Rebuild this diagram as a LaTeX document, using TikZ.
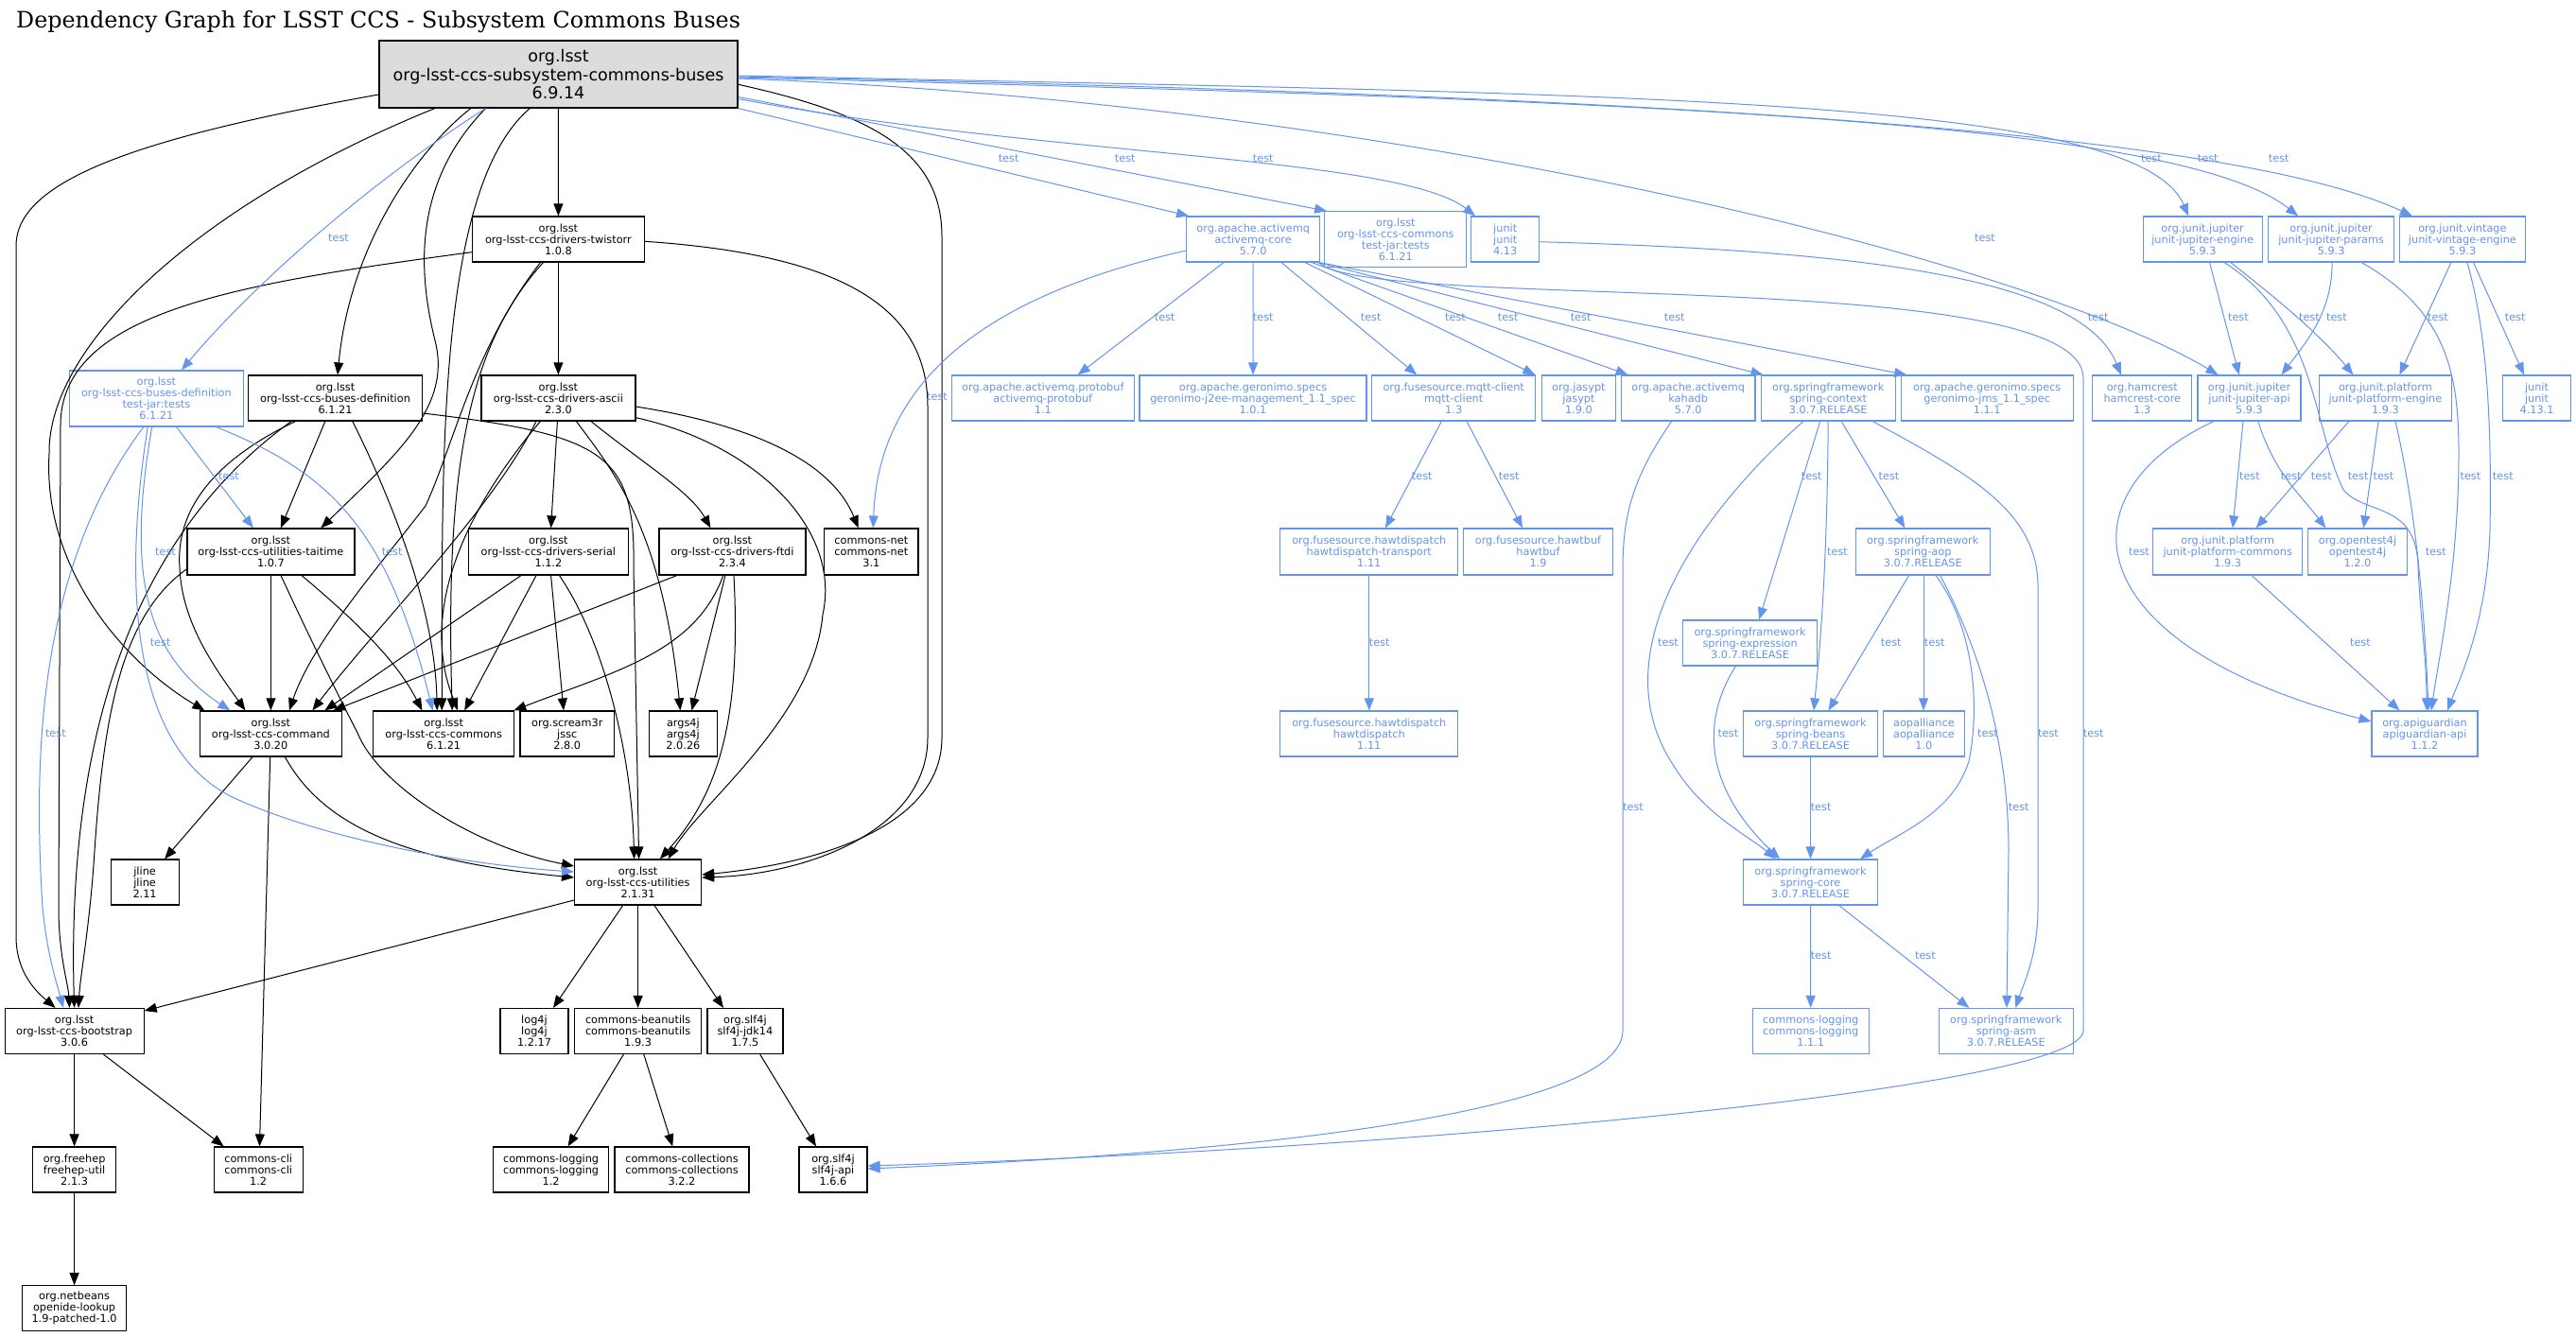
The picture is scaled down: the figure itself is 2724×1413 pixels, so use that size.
\documentclass[tikz,border=0pt]{standalone}
\usepackage{fontspec}
\usetikzlibrary{arrows.meta}
\newfontfamily\djv{DejaVu Sans}
\newfontfamily\djvs{DejaVu Serif}
\definecolor{cblue}{HTML}{6495ED}
\definecolor{rootgray}{HTML}{DCDCDC}
\tikzset{
  nb/.style={font=\djv\fontsize{11.3}{12}\selectfont, align=center, inner sep=0pt, line width=1.2pt},
  bk/.style={nb, draw=black, text=black},
  bl/.style={nb, draw=cblue, text=cblue},
  be/.style={draw=black, line width=1pt, -{Triangle[length=13pt,width=10pt]}},
  ue/.style={draw=cblue, line width=1pt, -{Triangle[length=13pt,width=10pt]}},
  lb/.style={font=\djv\fontsize{11.3}{12}\selectfont, text=cblue, inner sep=0pt},
}
\begin{document}
\begin{tikzpicture}[x=1pt,y=-1pt]
\fill[white] (0,0) rectangle (2724,1413);
\useasboundingbox (0,0) rectangle (2724,1413);

\node[anchor=base west, inner sep=0pt, font=\djvs\fontsize{23.8}{27}\selectfont] (title) at (17,30) {Dependency Graph for LSST CCS - Subsystem Commons Buses};

% ---------- black nodes ----------
\node[bk, fill=rootgray, minimum width=379, minimum height=71, font=\djv\fontsize{17.5}{19.5}\selectfont] (root) at (590.5,78.5) {org.lsst\\org-lsst-ccs-subsystem-commons-buses\\6.9.14};
\node[bk, minimum width=182, minimum height=48] (tw) at (590.4,253) {org.lsst\\org-lsst-ccs-drivers-twistorr\\1.0.8};
\node[bk, minimum width=184, minimum height=48] (bd) at (354.5,421) {org.lsst\\org-lsst-ccs-buses-definition\\6.1.21};
\node[bk, minimum width=163, minimum height=48] (asc) at (590.4,421) {org.lsst\\org-lsst-ccs-drivers-ascii\\2.3.0};
\node[bk, minimum width=177, minimum height=49] (tt) at (286.4,583.5) {org.lsst\\org-lsst-ccs-utilities-taitime\\1.0.7};
\node[bk, minimum width=169, minimum height=49] (ser) at (579.9,583.5) {org.lsst\\org-lsst-ccs-drivers-serial\\1.1.2};
\node[bk, minimum width=155, minimum height=49] (ftdi) at (774.4,583.5) {org.lsst\\org-lsst-ccs-drivers-ftdi\\2.3.4};
\node[bk, minimum width=99.5, minimum height=49] (cnet) at (921.3,583.5) {commons-net\\commons-net\\3.1};
\node[bk, minimum width=150, minimum height=48] (cmd) at (286.4,776) {org.lsst\\org-lsst-ccs-command\\3.0.20};
\node[bk, minimum width=149, minimum height=48] (com) at (469.2,776) {org.lsst\\org-lsst-ccs-commons\\6.1.21};
\node[bk, minimum width=99.6, minimum height=48] (jssc) at (599.8,776) {org.scream3r\\jssc\\2.8.0};
\node[bk, minimum width=72, minimum height=48] (args) at (722.4,776) {args4j\\args4j\\2.0.26};
\node[bk, minimum width=72, minimum height=48] (jline) at (153.1,933) {jline\\jline\\2.11};
\node[bk, minimum width=134, minimum height=48] (util) at (674.6,933) {org.lsst\\org-lsst-ccs-utilities\\2.1.31};
\node[bk, minimum width=147, minimum height=48] (boot) at (78.6,1090.5) {org.lsst\\org-lsst-ccs-bootstrap\\3.0.6};
\node[bk, minimum width=72, minimum height=48] (log4j) at (565,1090.5) {log4j\\log4j\\1.2.17};
\node[bk, minimum width=134, minimum height=48] (bu) at (674.6,1090.5) {commons-beanutils\\commons-beanutils\\1.9.3};
\node[bk, minimum width=80, minimum height=48] (jdk) at (787.9,1090.5) {org.slf4j\\slf4j-jdk14\\1.7.5};
\node[bk, minimum width=88, minimum height=48] (fh) at (78.6,1237) {org.freehep\\freehep-util\\2.1.3};
\node[bk, minimum width=94, minimum height=48] (cli) at (273.2,1237) {commons-cli\\commons-cli\\1.2};
\node[bk, minimum width=122, minimum height=48] (cl12) at (582.6,1237) {commons-logging\\commons-logging\\1.2};
\node[bk, minimum width=142, minimum height=48] (cc) at (721,1237) {commons-collections\\commons-collections\\3.2.2};
\node[bk, minimum width=72, minimum height=48] (sapi) at (881,1237) {org.slf4j\\slf4j-api\\1.6.6};
\node[bk, minimum width=110, minimum height=48] (nb) at (78.6,1383.8) {org.netbeans\\openide-lookup\\1.9-patched-1.0};

% ---------- blue nodes ----------
\node[bl, minimum width=184, minimum height=59] (tj) at (165.4,421.5) {org.lsst\\org-lsst-ccs-buses-definition\\test-jar:tests\\6.1.21};
\node[bl, minimum width=141, minimum height=48] (amq) at (1325.2,253) {org.apache.activemq\\activemq-core\\5.7.0};
\node[bl, minimum width=150, minimum height=59] (ctj) at (1475.8,253.3) {org.lsst\\org-lsst-ccs-commons\\test-jar:tests\\6.1.21};
\node[bl, minimum width=72, minimum height=48] (ju) at (1591.7,253) {junit\\junit\\4.13};
\node[bl, minimum width=126, minimum height=48] (jen) at (2329.1,253) {org.junit.jupiter\\junit-jupiter-engine\\5.9.3};
\node[bl, minimum width=133, minimum height=48] (jpar) at (2465.1,253) {org.junit.jupiter\\junit-jupiter-params\\5.9.3};
\node[bl, minimum width=133, minimum height=48] (vin) at (2603.9,253) {org.junit.vintage\\junit-vintage-engine\\5.9.3};
\node[bl, minimum width=193, minimum height=48] (pb) at (1102.8,421) {org.apache.activemq.protobuf\\activemq-protobuf\\1.1};
\node[bl, minimum width=240, minimum height=48] (j2ee) at (1325,421) {org.apache.geronimo.specs\\geronimo-j2ee-management\_1.1\_spec\\1.0.1};
\node[bl, minimum width=173, minimum height=48] (mqtt) at (1537.2,421) {org.fusesource.mqtt-client\\mqtt-client\\1.3};
\node[bl, minimum width=78, minimum height=48] (jas) at (1669.4,421) {org.jasypt\\jasypt\\1.9.0};
\node[bl, minimum width=141.5, minimum height=48] (kdb) at (1785.2,421) {org.apache.activemq\\kahadb\\5.7.0};
\node[bl, minimum width=142, minimum height=48] (sctx) at (1933.2,421) {org.springframework\\spring-context\\3.0.7.RELEASE};
\node[bl, minimum width=182, minimum height=48] (jms) at (2101.2,421) {org.apache.geronimo.specs\\geronimo-jms\_1.1\_spec\\1.1.1};
\node[bl, minimum width=105, minimum height=48] (ham) at (2265.3,421) {org.hamcrest\\hamcrest-core\\1.3};
\node[bl, minimum width=109, minimum height=48] (japi) at (2378.5,421) {org.junit.jupiter\\junit-jupiter-api\\5.9.3};
\node[bl, minimum width=140, minimum height=48] (pen) at (2522.4,421) {org.junit.platform\\junit-platform-engine\\1.9.3};
\node[bl, minimum width=72, minimum height=48] (ju4) at (2682.5,421) {junit\\junit\\4.13.1};
\node[bl, minimum width=188, minimum height=49] (hdt) at (1447.8,583.5) {org.fusesource.hawtdispatch\\hawtdispatch-transport\\1.11};
\node[bl, minimum width=158, minimum height=49] (hbuf) at (1626.5,583.5) {org.fusesource.hawtbuf\\hawtbuf\\1.9};
\node[bl, minimum width=142, minimum height=49] (aop) at (2033.3,583.5) {org.springframework\\spring-aop\\3.0.7.RELEASE};
\node[bl, minimum width=158, minimum height=49] (pcom) at (2355.7,583.5) {org.junit.platform\\junit-platform-commons\\1.9.3};
\node[bl, minimum width=105, minimum height=49] (ot) at (2493,583.5) {org.opentest4j\\opentest4j\\1.2.0};
\node[bl, minimum width=142, minimum height=48] (sexp) at (1850.6,680) {org.springframework\\spring-expression\\3.0.7.RELEASE};
\node[bl, minimum width=188, minimum height=48] (hd) at (1447.8,776) {org.fusesource.hawtdispatch\\hawtdispatch\\1.11};
\node[bl, minimum width=142, minimum height=48] (sbeans) at (1914.5,776) {org.springframework\\spring-beans\\3.0.7.RELEASE};
\node[bl, minimum width=86, minimum height=48] (aopa) at (2034.4,776) {aopalliance\\aopalliance\\1.0};
\node[bl, minimum width=112, minimum height=48] (apig) at (2564,776) {org.apiguardian\\apiguardian-api\\1.1.2};
\node[bl, minimum width=142, minimum height=48] (score) at (1914.5,933) {org.springframework\\spring-core\\3.0.7.RELEASE};
\node[bl, minimum width=123, minimum height=48] (cl111) at (1914.7,1090.5) {commons-logging\\commons-logging\\1.1.1};
\node[bl, minimum width=142, minimum height=48] (asm) at (2121.3,1090.5) {org.springframework\\spring-asm\\3.0.7.RELEASE};

% ---------- black edges ----------
\draw[be] (root) -- (tw);
\draw[be] ([xshift=-92.7]root.south) .. controls (440,160) and (370,260) .. ([xshift=2.5]bd.north);
\draw[be] ([xshift=-77]root.south) .. controls (440,190) and (440,280) .. (460,360) .. controls (478,430) and (420,480) .. ([xshift=53]tt.north);
\draw[be] ([xshift=-30.2]root.south) .. controls (460,200) and (468,500) .. ([xshift=-2]com.north);
\draw[be] ([xshift=-130.7]root.south) .. controls (200,220) and (50,370) .. (52,480) .. controls (45,600) and (130,700) .. ([xshift=-70]cmd.north);
\draw[be] ([yshift=-21.5]root.west) .. controls (150,145) and (17,190) .. (17,260) -- (17,990) .. controls (17,1030) and (40,1050) .. ([xshift=-20]boot.north);
\draw[be] ([yshift=-10.8]root.east) .. controls (920,120) and (996,160) .. (996,250) -- (996,780) .. controls (996,880) and (850,915) .. ([yshift=8]util.east);
\draw[be] ([yshift=-2.3]tw.east) .. controls (900,270) and (981,330) .. (981,430) -- (981,780) .. controls (981,880) and (850,925) .. ([yshift=5]util.east);
\draw[be] (tw) -- (asc);
\draw[be] ([yshift=-13.7]tw.west) .. controls (250,300) and (64,330) .. (64,450) -- (62,960) .. controls (62,1010) and (72,1040) .. ([xshift=-5]boot.north);
\draw[be] ([xshift=-19]tw.south) .. controls (500,370) and (480,470) .. (450,535) .. controls (400,600) and (330,680) .. ([xshift=19.5]cmd.north);
\draw[be] ([xshift=-16]tw.south) .. controls (500,360) and (470,480) .. ([xshift=9]com.north);
\draw[be] ([xshift=-10.7]bd.south) -- ([xshift=10.5]tt.north);
\draw[be] ([xshift=-42]bd.south) .. controls (240,480) and (185,530) .. (190,600) .. controls (192,660) and (230,710) .. ([xshift=-27]cmd.north);
\draw[be] ([xshift=-46.5]bd.south) .. controls (150,560) and (70,760) .. (boot.north);
\draw[be] ([xshift=18.3]bd.south) .. controls (420,540) and (460,650) .. ([xshift=-7]com.north);
\draw[be] ([yshift=-16]bd.east) .. controls (640,460) and (672,480) .. (670,600) -- ([xshift=1]util.north);
\draw[be] ([xshift=34.6]asc.south) .. controls (680,490) and (730,520) .. ([xshift=-23]ftdi.north);
\draw[be] ([xshift=-1]asc.south) -- ([xshift=2.7]ser.north);
\draw[be] ([yshift=-9]asc.east) .. controls (800,450) and (880,490) .. ([xshift=-13.6]cnet.north);
\draw[be] ([yshift=-20.7]asc.east) .. controls (800,470) and (890,560) .. (870,650) .. controls (860,760) and (740,850) .. ([xshift=32]util.north);
\draw[be] ([xshift=19]asc.south) .. controls (650,500) and (700,560) .. ([xshift=-3]args.north);
\draw[be] ([xshift=-23.4]asc.south) .. controls (520,540) and (400,660) .. ([xshift=44]cmd.north);
\draw[be] ([xshift=-19]asc.south) .. controls (500,530) and (440,640) .. ([xshift=15]com.north);
\draw[be] ([xshift=-58.7]ftdi.south) -- ([xshift=66]cmd.north);
\draw[be] ([xshift=-9.6]ftdi.south) .. controls (735,690) and (650,710) .. ([xshift=-1]com.north east);
\draw[be] ([xshift=-7.4]ftdi.south) -- ([xshift=9]args.north);
\draw[be] ([xshift=1.6]ftdi.south) .. controls (784,760) and (760,840) .. ([xshift=23.3]util.north);
\draw[be] ([xshift=-28.9]ser.south) -- ([xshift=57]cmd.north);
\draw[be] ([xshift=-12.9]ser.south) -- ([xshift=22]com.north);
\draw[be] ([xshift=2.7]ser.south) -- ([xshift=-3.8]jssc.north);
\draw[be] ([xshift=11.6]ser.south) .. controls (640,680) and (668,800) .. ([xshift=-4]util.north);
\draw[be] (tt) -- (cmd);
\draw[be] ([xshift=32.6]tt.south) .. controls (380,660) and (420,700) .. ([xshift=-22.8]com.north);
\draw[be] ([xshift=10.6]tt.south) .. controls (330,680) and (360,740) .. (378,775) .. controls (400,830) and (500,895) .. ([yshift=17]util.west);
\draw[be] ([yshift=-18.5]tt.west) .. controls (130,650) and (110,750) .. (100,900) .. controls (95,980) and (85,1030) .. ([xshift=4.4]boot.north);
\draw[be] ([xshift=-19.4]cmd.south) -- ([xshift=21]jline.north);
\draw[be] ([xshift=-0.7]cmd.south) -- ([xshift=1.3]cli.north);
\draw[be] ([xshift=15]cmd.south) .. controls (340,870) and (420,910) .. ([yshift=5]util.west);
\draw[be] ([yshift=-19]util.west) -- ([yshift=21.5]boot.east);
\draw[be] ([xshift=-16]util.south) -- ([xshift=20]log4j.north);
\draw[be] (util) -- (bu);
\draw[be] ([xshift=17.4]util.south) -- ([xshift=-23]jdk.north);
\draw[be] (boot) -- (fh);
\draw[be] ([xshift=30.8]boot.south) -- ([xshift=-36.6]cli.north);
\draw[be] (fh) -- (nb);
\draw[be] ([xshift=-15.2]bu.south) -- ([xshift=18]cl12.north);
\draw[be] ([xshift=6.2]bu.south) -- ([xshift=-9.75]cc.north);
\draw[be] ([xshift=15.8]jdk.south) -- ([xshift=-18]sapi.north);

% ---------- blue edges ----------
\draw[ue] ([xshift=-77]root.south) .. controls (380,200) and (260,310) .. ([xshift=26.6]tj.north);
\draw[ue] (root.south east) -- ([xshift=3]amq.north west);
\draw[ue] ([yshift=-24]root.east) -- ([xshift=3]ctj.north west);
\draw[ue] ([yshift=-26]root.east) .. controls (1100,165) and (1480,165) .. ([xshift=-31.7]ju.north);
\draw[ue] ([yshift=-4.5]root.east) .. controls (1500,110) and (2150,280) .. ([xshift=-33]japi.north);
\draw[ue] ([yshift=-1.5]root.east) .. controls (1700,100) and (2260,100) .. ([xshift=-15]jen.north);
\draw[ue] ([yshift=-3.5]root.east) .. controls (1700,105) and (2300,125) .. ([xshift=-35]jpar.north);
\draw[ue] ([yshift=-2.5]root.east) .. controls (1700,100) and (2350,135) .. ([xshift=-53]vin.north);

\draw[ue] ([xshift=21.2]tj.south) -- ([xshift=-18.5]tt.north);
\draw[ue] ([xshift=63.2]tj.south) .. controls (350,500) and (410,560) .. ([xshift=-11.6]com.north);
\draw[ue] ([xshift=-4.7]tj.south) .. controls (135,600) and (150,690) .. ([xshift=-43]cmd.north);
\draw[ue] ([xshift=-9.2]tj.south) .. controls (125,650) and (150,800) .. (250,845) .. controls (350,890) and (500,915) .. ([yshift=11]util.west);
\draw[ue] ([xshift=-13.6]tj.south) .. controls (40,600) and (35,800) .. (45,960) .. controls (50,1010) and (60,1040) .. ([xshift=-11.6]boot.north);

\draw[ue] ([yshift=-12]amq.west) .. controls (1100,300) and (930,370) .. ([xshift=2]cnet.north);
\draw[ue] ([xshift=-31.2]amq.south) -- ([xshift=37]pb.north);
\draw[ue] (amq) -- (j2ee);
\draw[ue] ([xshift=29.8]amq.south) -- ([xshift=-39]mqtt.north);
\draw[ue] ([xshift=54.8]amq.south) -- ([xshift=-46]jas.north);
\draw[ue] ([xshift=61.8]amq.south) -- ([xshift=-63.6]kdb.north);
\draw[ue] ([xshift=-3]amq.south east) -- ([xshift=-68.7]sctx.north);
\draw[ue] ([xshift=-1]amq.south east) -- ([xshift=-85]jms.north);
\draw[ue] ([xshift=-2]amq.south east) .. controls (1450,330) and (2203,280) .. (2203,400) -- (2203,1090) .. controls (2203,1150) and (1500,1215) .. ([yshift=4]sapi.east);

\draw[ue] ([yshift=-2.7]ju.east) .. controls (1950,265) and (2200,290) .. ([xshift=-22.5]ham.north);

\draw[ue] ([xshift=7.4]jen.south) -- ([xshift=-10.75]japi.north);
\draw[ue] ([xshift=29.7]jen.south) .. controls (2400,310) and (2450,350) .. ([xshift=-34]pen.north);
\draw[ue] ([xshift=23]jen.south) .. controls (2450,340) and (2445,450) .. (2478,518) .. controls (2500,545) and (2556,530) .. (2557,600) .. controls (2560,660) and (2566,700) .. ([xshift=2]apig.north);
\draw[ue] ([xshift=1]jpar.south) .. controls (2466,330) and (2440,360) .. ([xshift=34]japi.north);
\draw[ue] ([xshift=32]jpar.south) .. controls (2590,330) and (2600,400) .. (2600,480) .. controls (2600,600) and (2578,700) .. ([xshift=7]apig.north);
\draw[ue] ([xshift=-12]vin.south) -- ([xshift=15]pen.north);
\draw[ue] ([xshift=11.6]vin.south) -- ([xshift=-13.5]ju4.north);
\draw[ue] ([xshift=5]vin.south) .. controls (2630,350) and (2635,450) .. (2633,560) .. controls (2630,660) and (2600,720) .. ([xshift=24]apig.north);
\draw[ue] ([xshift=-6.5]japi.south) -- ([xshift=5.3]pcom.north);
\draw[ue] ([xshift=9.3]japi.south) .. controls (2405,500) and (2430,520) .. ([xshift=-33.7]ot.north);
\draw[ue] ([xshift=-37.5]japi.south) .. controls (2180,520) and (2190,680) .. ([yshift=13]apig.west);
\draw[ue] ([xshift=-38.6]pen.south) -- ([xshift=30]pcom.north);
\draw[ue] ([xshift=-7.4]pen.south) -- ([xshift=6.4]ot.north);
\draw[ue] ([xshift=10.6]pen.south) .. controls (2555,540) and (2564,650) .. ([xshift=4]apig.north);
\draw[ue] ([xshift=25.3]pcom.south) -- ([xshift=-26.6]apig.north);

\draw[ue] ([xshift=-12.9]mqtt.south) -- ([xshift=17.2]hdt.north);
\draw[ue] ([xshift=13.8]mqtt.south) -- ([xshift=-16.5]hbuf.north);
\draw[ue] (hdt) -- (hd);
\draw[ue] ([xshift=-17.6]kdb.south) .. controls (1730,500) and (1716,540) .. (1716,600) -- (1716,1090) .. controls (1716,1180) and (1300,1220) .. ([yshift=1]sapi.east);

\draw[ue] ([xshift=-8.5]sctx.south) -- ([xshift=9.5]sexp.north);
\draw[ue] (sctx.south) .. controls (1932,600) and (1925,680) .. ([xshift=3.5]sbeans.north);
\draw[ue] ([xshift=-26.3]sctx.south) .. controls (1800,540) and (1690,690) .. (1770,810) .. controls (1800,860) and (1850,885) .. ([xshift=-36.6]score.north);
\draw[ue] ([xshift=14]sctx.south) -- ([xshift=-19]aop.north);
\draw[ue] ([xshift=47]sctx.south) .. controls (2080,500) and (2155,540) .. (2155,620) -- (2155,960) .. controls (2155,1010) and (2140,1040) .. ([xshift=10]asm.north);
\draw[ue] ([xshift=-15.2]sexp.south) .. controls (1800,760) and (1800,830) .. ([xshift=-32.5]score.north);
\draw[ue] (sbeans) -- (score);
\draw[ue] ([xshift=-14.8]aop.south) -- ([xshift=19]sbeans.north);
\draw[ue] ([xshift=0.7]aop.south) -- ([xshift=-0.4]aopa.north);
\draw[ue] ([xshift=13.7]aop.south) .. controls (2085,660) and (2095,740) .. (2082,805) .. controls (2065,860) and (2010,880) .. ([xshift=52.5]score.north);
\draw[ue] ([xshift=18.4]aop.south) .. controls (2100,700) and (2124,800) .. (2124,900) -- ([xshift=0.7]asm.north);
\draw[ue] (score) -- (cl111);
\draw[ue] ([xshift=30.3]score.south) -- ([xshift=-39]asm.north);

% ---------- edge labels ----------
\node[lb] (t1) at (358,252) {test};
\node[lb] (t2) at (1066.6,168) {test};
\node[lb] (t3) at (1189.8,168) {test};
\node[lb] (t4) at (1335.8,168) {test};
\node[lb] (t5) at (2099,252) {test};
\node[lb] (t6) at (2274.9,168) {test};
\node[lb] (t7) at (2334.7,168) {test};
\node[lb] (t8) at (2409.7,168) {test};
\node[lb] (t9) at (242,504) {test};
\node[lb] (t10) at (175,583.3) {test};
\node[lb] (t11) at (414.7,583.3) {test};
\node[lb] (t12) at (169.6,679.3) {test};
\node[lb] (t13) at (58.9,775.3) {test};
\node[lb] (t14) at (991,420) {test};
\node[lb] (t15) at (1231.8,336) {test};
\node[lb] (t16) at (1335.8,336) {test};
\node[lb] (t17) at (1449.7,336) {test};
\node[lb] (t18) at (1539,336) {test};
\node[lb] (t19) at (1594.8,336) {test};
\node[lb] (t20) at (1671.6,336) {test};
\node[lb] (t21) at (1770.7,336) {test};
\node[lb] (t22) at (2213.7,775.3) {test};
\node[lb] (t23) at (2218.6,336) {test};
\node[lb] (t24) at (2366.9,336) {test};
\node[lb] (t25) at (2441.9,336) {test};
\node[lb] (t26) at (2470.9,336) {test};
\node[lb] (t27) at (2578,336) {test};
\node[lb] (t28) at (2659.7,336) {test};
\node[lb] (t29) at (2378.9,504) {test};
\node[lb] (t30) at (2422.7,504) {test};
\node[lb] (t31) at (2454.8,504) {test};
\node[lb] (t32) at (2493.6,504) {test};
\node[lb] (t33) at (2520.4,504) {test};
\node[lb] (t34) at (2612.4,504) {test};
\node[lb] (t35) at (2646.8,504) {test};
\node[lb] (t36) at (2262,583.3) {test};
\node[lb] (t37) at (2575.8,583.3) {test};
\node[lb] (t38) at (2495.9,679.3) {test};
\node[lb] (t39) at (1503.75,504) {test};
\node[lb] (t40) at (1595.7,504) {test};
\node[lb] (t41) at (1458.7,679.3) {test};
\node[lb] (t42) at (1915.8,504) {test};
\node[lb] (t43) at (1997.5,504) {test};
\node[lb] (t44) at (1943,583.3) {test};
\node[lb] (t45) at (1764,679.3) {test};
\node[lb] (t46) at (1999.7,679.3) {test};
\node[lb] (t47) at (2045.7,679.3) {test};
\node[lb] (t48) at (1827.4,775.3) {test};
\node[lb] (t49) at (2102,775.3) {test};
\node[lb] (t50) at (2166,775.3) {test};
\node[lb] (t51) at (1925.6,853.3) {test};
\node[lb] (t52) at (1727,853.3) {test};
\node[lb] (t53) at (2134.7,853.3) {test};
\node[lb] (t54) at (1925.6,1011) {test};
\node[lb] (t55) at (2035.9,1011) {test};
\end{tikzpicture}
\end{document}
